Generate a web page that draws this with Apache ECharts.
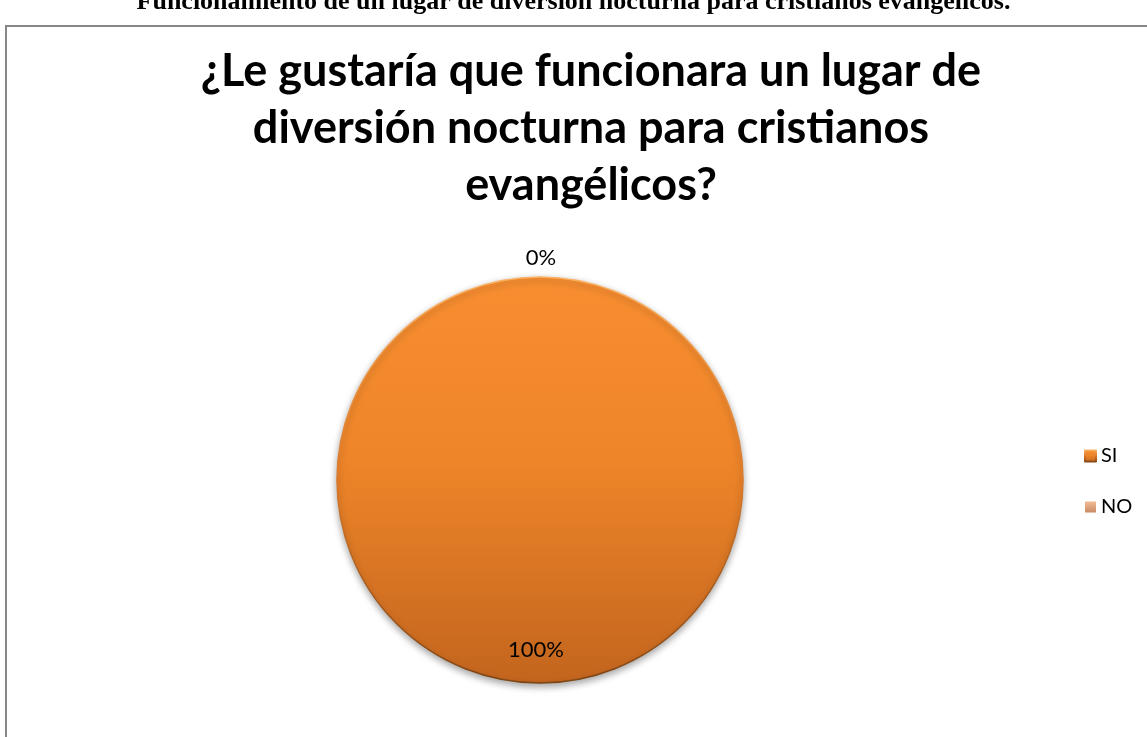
<!DOCTYPE html>
<html>
<head>
<meta charset="utf-8">
<title>Lugar de diversión nocturna</title>
<script src="https://cdn.jsdelivr.net/npm/echarts@6/dist/echarts.min.js"></script>
<style>
  html, body { margin: 0; padding: 0; background: #ffffff; }
  #chart { width: 1147px; height: 737px; }
</style>
</head>
<body>
<div id="chart"></div>
<script>
// Survey answers
const categories = ['SI', 'NO'];
const percentages = [100, 0];
const chartTitle = '¿Le gustaría que funcionara un lugar de\ndiversión nocturna para cristianos\nevangélicos?';
const captionText = 'Funcionamiento de un lugar de diversión nocturna para cristianos evangélicos.';

const sliceColors = [
  new echarts.graphic.LinearGradient(0, 0, 0, 1, [
    { offset: 0, color: '#F88E30' },
    { offset: 0.45, color: '#EE8529' },
    { offset: 1, color: '#C3651E' }
  ]),
  new echarts.graphic.LinearGradient(0, 0, 0, 1, [
    { offset: 0, color: '#F2BC94' },
    { offset: 1, color: '#C98A64' }
  ])
];

// bevelled rim: light along the top, dark brown along the bottom
const rimColor = new echarts.graphic.LinearGradient(0, 0, 0, 1, [
  { offset: 0, color: '#FBB264' },
  { offset: 0.5, color: '#D9792A' },
  { offset: 1, color: '#7E4412' }
]);

const chart = echarts.init(document.getElementById('chart'), null, { renderer: 'canvas' });

chart.setOption({
  backgroundColor: '#ffffff',
  animation: false,
  title: {
    text: chartTitle,
    left: 586,
    top: 38,
    textAlign: 'center',
    textStyle: {
      fontFamily: 'Lato, "Open Sans", sans-serif',
      fontWeight: 'bold',
      fontSize: 45,
      lineHeight: 57,
      color: '#000000'
    }
  },
  legend: {
    orient: 'vertical',
    left: 1079,
    top: 441,
    itemWidth: 11,
    itemHeight: 11,
    itemGap: 31,
    icon: 'rect',
    textStyle: {
      fontFamily: 'Lato, "Open Sans", sans-serif',
      fontSize: 20,
      color: '#000000'
    },
    data: categories
  },
  graphic: [
    {
      type: 'text',
      left: 'center',
      top: -11,
      style: {
        text: captionText,
        font: 'bold 26px "Liberation Serif", "Times New Roman", serif',
        fill: '#000000'
      }
    },
    {
      type: 'rect',
      shape: { x: 6, y: 26, width: 1200, height: 800 },
      style: { fill: 'none', stroke: '#878787', lineWidth: 2 },
      silent: true
    }
  ],
  series: [
    {
      type: 'pie',
      center: [540, 480],
      radius: 203,
      startAngle: 90,
      clockwise: true,
      avoidLabelOverlap: false,
      stillShowZeroSum: true,
      itemStyle: {
        borderWidth: 0,
        shadowColor: 'rgba(0, 0, 0, 0.35)',
        shadowBlur: 7,
        shadowOffsetY: 3
      },
      label: {
        formatter: '{d}%',
        fontFamily: 'Lato, "Open Sans", sans-serif',
        fontSize: 22,
        color: '#000000'
      },
      labelLine: { show: false, length: 19, length2: 0 },
      labelLayout: function (params) {
        return params.dataIndex === 0 ? { dy: 65, dx: -4 } : { align: 'center', dx: -4 };
      },
      emphasis: { disabled: true },
      data: categories.map(function (name, i) {
        return {
          name: name,
          value: percentages[i],
          itemStyle: i === 0
            ? { color: sliceColors[i], borderColor: rimColor, borderWidth: 1.5 }
            : { color: sliceColors[i] },
          label: { position: i === 0 ? 'inside' : 'outside' }
        };
      })
    }
  ]
});
</script>
</body>
</html>
